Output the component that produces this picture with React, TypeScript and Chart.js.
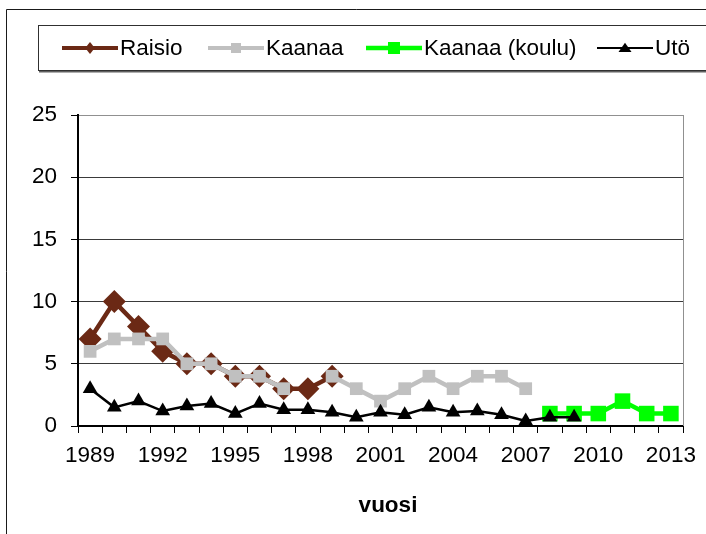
import React, { useEffect, useRef } from 'react';
import { Chart, registerables } from 'chart.js';

Chart.register(...registerables);

const years = [
  '1989', '1990', '1991', '1992', '1993', '1994', '1995', '1996', '1997', '1998',
  '1999', '2000', '2001', '2002', '2003', '2004', '2005', '2006', '2007', '2008',
  '2009', '2010', '2011', '2012', '2013',
];

const raisio = [7, 10, 8, 6, 5, 5, 4, 4, 3, 3, 4,
  null, null, null, null, null, null, null, null, null, null, null, null, null, null];

const kaanaa = [6, 7, 7, 7, 5, 5, 4, 4, 3, null, 4, 3, 2, 3, 4, 3, 4, 4, 3,
  null, null, null, null, null, null];

const kaanaaKoulu = [null, null, null, null, null, null, null, null, null, null,
  null, null, null, null, null, null, null, null, null, 1, 1, 1, 2, 1, 1];

const uto = [3.0, 1.5, 2.0, 1.2, 1.6, 1.8, 1.0, 1.8, 1.3, 1.3, 1.1, 0.7, 1.1, 0.9,
  1.5, 1.1, 1.2, 0.9, 0.4, 0.7, 0.7, null, null, null, null];

const seriesNames = ['Raisio', 'Kaanaa', 'Kaanaa (koulu)', 'Utö'];
const seriesColors = ['#6B2915', '#C0C0C0', '#00FF00', '#000000'];
const yTicks = [0, 5, 10, 15, 20, 25];
const xTitle = 'vuosi';

const FONT = '"Liberation Sans", Arial, sans-serif';
const FS = 22.5;

function drawMarker(ctx: CanvasRenderingContext2D, kind: string, x: number, y: number, r: number, color: string) {
  ctx.save();
  ctx.fillStyle = color;
  ctx.beginPath();
  if (kind === 'diamond') {
    ctx.moveTo(x, y - r);
    ctx.lineTo(x + r * 0.8, y);
    ctx.lineTo(x, y + r);
    ctx.lineTo(x - r * 0.8, y);
    ctx.closePath();
  } else if (kind === 'square') {
    ctx.rect(x - r, y - r, 2 * r, 2 * r);
  } else {
    ctx.moveTo(x, y - r * 0.8);
    ctx.lineTo(x + r, y + r * 0.6);
    ctx.lineTo(x - r, y + r * 0.6);
    ctx.closePath();
  }
  ctx.fill();
  ctx.restore();
}

const decorPlugin = {
  id: 'decor',
  beforeDatasetsDraw(chart: any) {
    const { ctx, chartArea } = chart;
    ctx.save();
    ctx.strokeStyle = '#909090';
    ctx.lineWidth = 1;
    ctx.beginPath();
    ctx.moveTo(Math.round(chartArea.right) + 0.5, chartArea.top);
    ctx.lineTo(Math.round(chartArea.right) + 0.5, chartArea.bottom);
    ctx.stroke();
    ctx.restore();
  },
  afterDraw(chart: any) {
    const { ctx } = chart;
    ctx.save();
    // outer chart border
    ctx.strokeStyle = '#1a1a1a';
    ctx.lineWidth = 1;
    ctx.beginPath();
    ctx.moveTo(6.5, 534);
    ctx.lineTo(6.5, 9.5);
    ctx.lineTo(706, 9.5);
    ctx.stroke();

    // legend box
    ctx.fillStyle = '#606060';
    ctx.fillRect(39, 70, 680, 2.5);
    ctx.fillStyle = '#ffffff';
    ctx.fillRect(38.5, 25.5, 690, 45);
    ctx.strokeStyle = '#303030';
    ctx.strokeRect(38.5, 25.5, 690, 45);

    const cy = 48;
    const kinds = ['diamond', 'square', 'square', 'triangle'];
    const lineW = [4, 4, 4.5, 2];
    const mr = [6, 5, 6, 6.5];
    const starts = [62, 208, 366, 597];
    ctx.font = `${FS}px ${FONT}`;
    ctx.textBaseline = 'middle';
    ctx.textAlign = 'left';
    for (let i = 0; i < seriesNames.length; i++) {
      const x = starts[i];
      ctx.strokeStyle = seriesColors[i];
      ctx.lineWidth = lineW[i];
      ctx.beginPath();
      ctx.moveTo(x, cy);
      ctx.lineTo(x + 56, cy);
      ctx.stroke();
      drawMarker(ctx, kinds[i], x + 28, cy, mr[i], seriesColors[i]);
      ctx.fillStyle = '#000';
      ctx.fillText(seriesNames[i], x + 58, cy + 1);
    }

    // x axis title
    ctx.font = `bold ${FS}px ${FONT}`;
    ctx.textAlign = 'center';
    ctx.fillStyle = '#000';
    ctx.fillText(xTitle, 388, 506);
    ctx.restore();
  },
};

export default function App() {
  const ref = useRef<HTMLCanvasElement>(null);

  useEffect(() => {
    if (!ref.current) return;
    const chart = new Chart(ref.current, {
      type: 'line',
      data: {
        labels: years,
        datasets: [
          {
            label: seriesNames[0], data: raisio, borderColor: seriesColors[0], backgroundColor: seriesColors[0],
            borderWidth: 4.5, pointStyle: 'rectRot', pointRadius: 11.5, pointBorderWidth: 0, order: 4, spanGaps: false,
          },
          {
            label: seriesNames[1], data: kaanaa, borderColor: seriesColors[1], backgroundColor: seriesColors[1],
            borderWidth: 4.5, pointStyle: 'rect', pointRadius: 9, pointBorderWidth: 0, order: 3, spanGaps: false,
          },
          {
            label: seriesNames[2], data: kaanaaKoulu, borderColor: seriesColors[2], backgroundColor: seriesColors[2],
            borderWidth: 4.5, pointStyle: 'rect', pointRadius: 11, pointBorderWidth: 0, order: 2, spanGaps: false,
          },
          {
            label: seriesNames[3], data: uto, borderColor: seriesColors[3], backgroundColor: seriesColors[3],
            borderWidth: 2.5, pointStyle: 'triangle', pointRadius: 8.5, pointBorderWidth: 0, order: 1, spanGaps: false,
          },
        ],
      },
      options: {
        responsive: false,
        animation: false,
        devicePixelRatio: 1,
        layout: { padding: { left: 0, right: 23, top: 115, bottom: 0 } },
        plugins: { legend: { display: false }, tooltip: { enabled: false } },
        elements: { line: { tension: 0 } },
        scales: {
          x: {
            type: 'category',
            offset: true,
            grid: { offset: true, drawOnChartArea: false, drawTicks: true, tickLength: 7, color: '#000', lineWidth: 1 },
            border: { color: '#000', width: 2 },
            ticks: {
              autoSkip: false, maxRotation: 0, minRotation: 0, padding: 9, color: '#000',
              font: { family: FONT, size: FS },
              callback: (_v: any, i: number) => (i % 3 === 0 ? years[i] : ''),
            },
            afterFit: (s: any) => { s.height = 108; },
          },
          y: {
            min: yTicks[0], max: yTicks[yTicks.length - 1],
            afterBuildTicks: (s: any) => { s.ticks = yTicks.map((v) => ({ value: v })); },
            grid: {
              color: (c: any) => (c.tick && c.tick.value === 25 ? '#909090' : '#3a3a3a'),
              tickColor: '#000', tickLength: 7, lineWidth: 1, drawTicks: true,
            },
            border: { color: '#000', width: 2 },
            ticks: { padding: 14, color: '#000', font: { family: FONT, size: FS } },
            afterFit: (s: any) => { s.width = 78; },
          },
        },
      },
      plugins: [decorPlugin],
    });
    return () => chart.destroy();
  }, []);

  return (
    <div style={{ position: 'absolute', left: 0, top: 0, width: 706, height: 534, background: '#fff' }}>
      <canvas ref={ref} width={706} height={534} style={{ display: 'block' }} />
    </div>
  );
}
